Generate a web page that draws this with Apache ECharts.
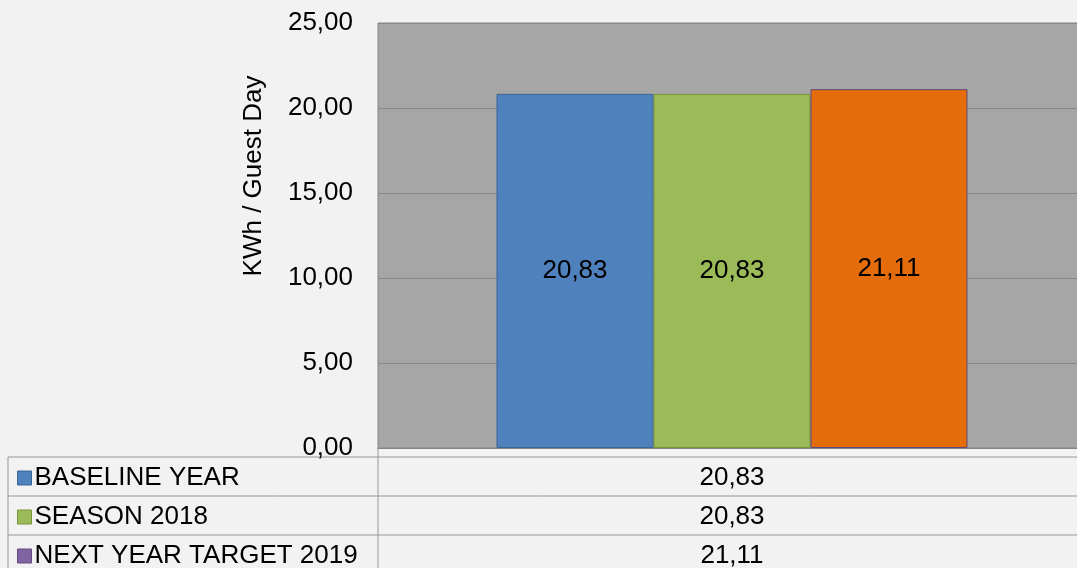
<!DOCTYPE html>
<html>
<head>
<meta charset="utf-8">
<script src="https://cdn.jsdelivr.net/npm/echarts@6/dist/echarts.min.js"></script>
<style>
  html,body{margin:0;padding:0;background:#f2f2f2;}
  #chart{width:1077px;height:568px;}
</style>
</head>
<body>
<div id="chart"></div>
<script>
  // ===== Dados =====
  const categories = [''];
  const seriesNames = ['BASELINE YEAR', 'SEASON 2018', 'NEXT YEAR TARGET 2019'];
  const baselineYear = [20.83];
  const season2018 = [20.83];
  const target2019 = [21.11];
  const yAxisName = 'KWh / Guest Day';

  // cores (barra / borda / legenda)
  const fillColors = ['#4f81bd', '#9bbb59', '#e46c0a'];
  const borderColors = ['#3a6596', '#77933c', '#604a7b'];
  const legendColors = ['#4f81bd', '#9bbb59', '#8064a2'];

  const FONT = '"Liberation Sans", Arial, sans-serif';
  const FS = 26;
  const fmt = v => v.toFixed(2).replace('.', ',');

  // ===== Tabela de dados (abaixo do eixo) =====
  const tableTop = 457, rowH = 39, colX = 378, tableLeft = 8, tableRight = 1077;
  const lineStyle = {stroke: '#969696', lineWidth: 1};
  const seriesData = [baselineYear, season2018, target2019];
  const tableGraphics = [];
  for (let i = 0; i <= seriesNames.length; i++) {
    tableGraphics.push({type: 'line', shape: {x1: tableLeft, y1: tableTop + i * rowH, x2: tableRight, y2: tableTop + i * rowH}, style: lineStyle, silent: true});
  }
  tableGraphics.push({type: 'line', shape: {x1: tableLeft, y1: tableTop, x2: tableLeft, y2: 568}, style: lineStyle, silent: true});
  tableGraphics.push({type: 'line', shape: {x1: colX, y1: 448, x2: colX, y2: 568}, style: lineStyle, silent: true});
  seriesData.forEach((arr, i) => {
    tableGraphics.push({
      type: 'text', x: 732, y: tableTop + i * rowH + rowH / 2 + 1,
      style: {text: fmt(arr[0]), font: FS + 'px ' + FONT, fill: '#000', align: 'center', verticalAlign: 'middle'}
    });
  });
  // nome do eixo Y
  tableGraphics.push({
    type: 'text', x: 254, y: 176, rotation: Math.PI / 2,
    style: {text: yAxisName, font: FS + 'px ' + FONT, fill: '#000', align: 'center', verticalAlign: 'middle'}
  });

  const chart = echarts.init(document.getElementById('chart'), null, {renderer: 'canvas'});

  function barSeries(name, data, i) {
    return {
      name, type: 'bar', data, barWidth: 157, barGap: '0%',
      itemStyle: {color: fillColors[i], borderColor: borderColors[i], borderWidth: 1},
      label: {show: true, position: 'inside', formatter: p => fmt(p.value), fontSize: FS, fontFamily: FONT, color: '#000'},
      emphasis: {disabled: true}
    };
  }

  chart.setOption({
    backgroundColor: '#f2f2f2',
    animation: false,
    textStyle: {fontFamily: FONT},
    grid: {left: 378, top: 23, right: -9, bottom: 120, outerBoundsMode: 'none', show: true, backgroundColor: '#a6a6a6', borderColor: '#868686', borderWidth: 1},
    legend: {
      orient: 'vertical', left: 12, top: 460, height: 300, itemWidth: 14, itemHeight: 14, itemGap: 13,
      icon: 'rect', selectedMode: false,
      textStyle: {fontSize: FS, fontFamily: FONT, color: '#000', padding: [0, 0, 0, -2]},
      data: seriesNames.map((n, i) => ({name: n, itemStyle: {color: legendColors[i], borderColor: borderColors[i], borderWidth: 1}}))
    },
    xAxis: {
      type: 'category', data: categories,
      axisLine: {show: true, lineStyle: {color: '#868686'}},
      axisTick: {show: false}, axisLabel: {show: false}
    },
    yAxis: {
      type: 'value', min: 0, max: 25, interval: 5,
      axisLine: {show: false}, axisTick: {show: false},
      axisLabel: {formatter: v => fmt(v), fontSize: FS, fontFamily: FONT, color: '#000', margin: 25},
      splitLine: {lineStyle: {color: '#868686', width: 1}}
    },
    graphic: tableGraphics,
    series: [
      barSeries(seriesNames[0], baselineYear, 0),
      barSeries(seriesNames[1], season2018, 1),
      barSeries(seriesNames[2], target2019, 2)
    ]
  });
</script>
</body>
</html>
